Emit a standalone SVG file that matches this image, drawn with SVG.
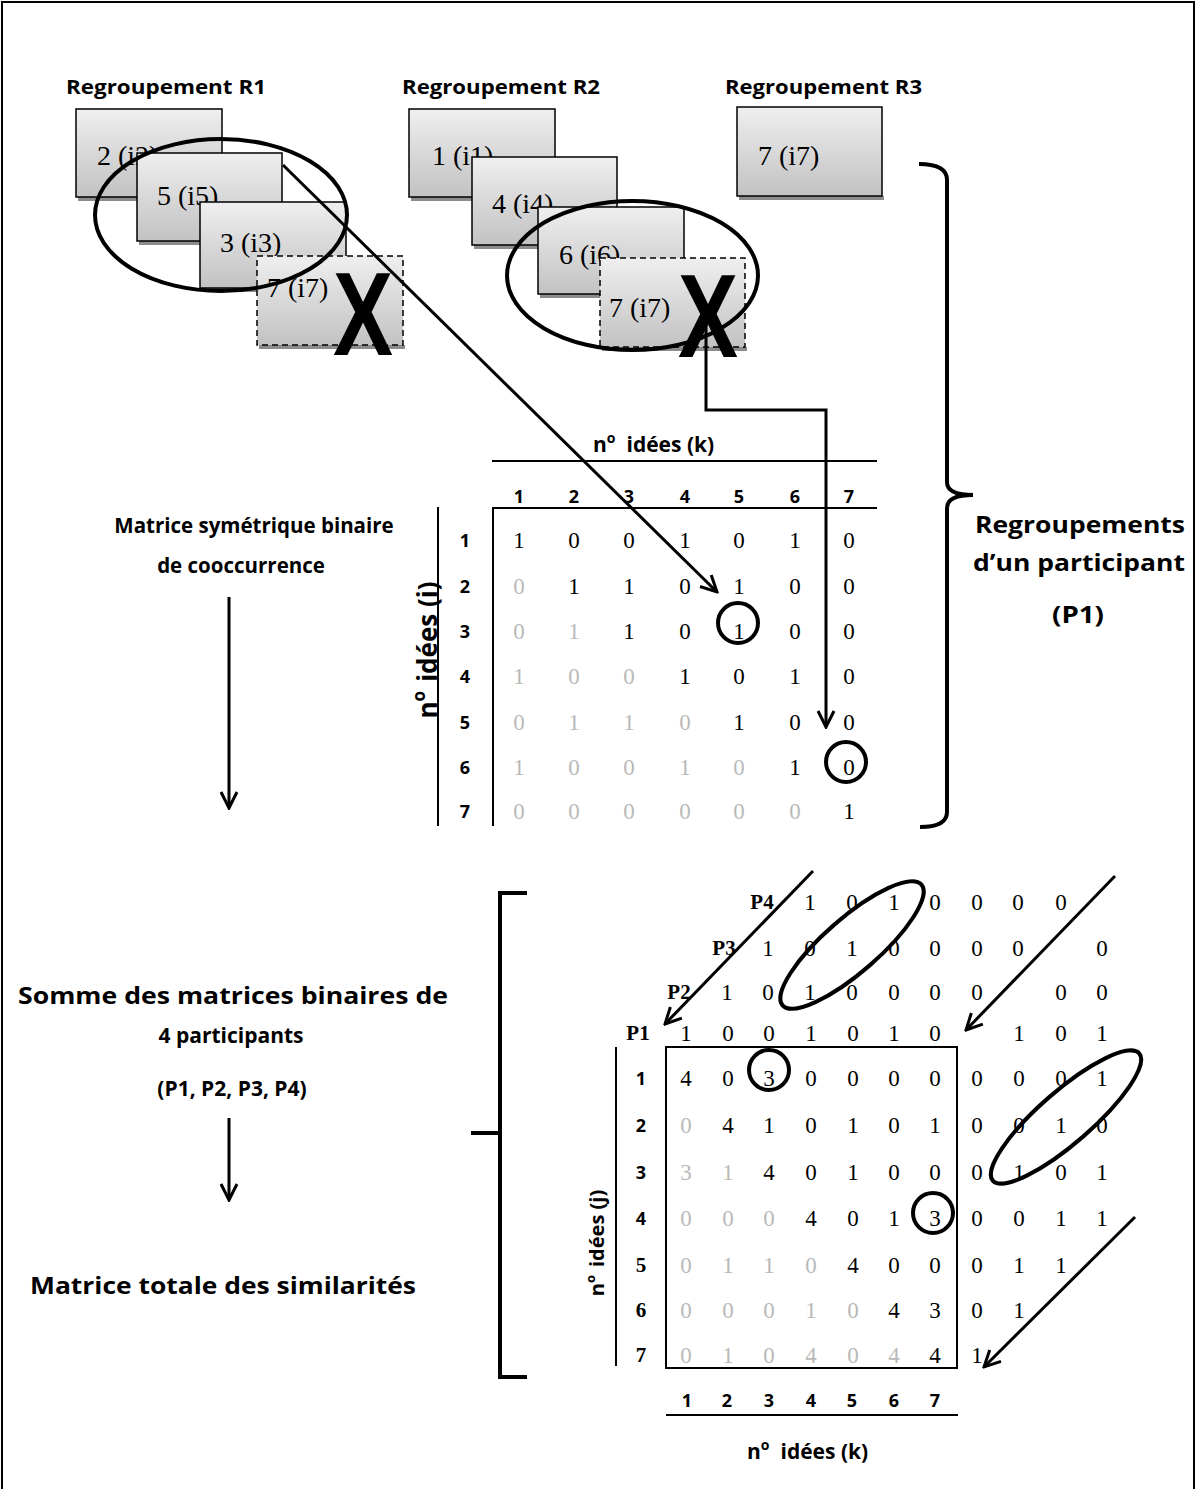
<svg xmlns="http://www.w3.org/2000/svg" width="1196" height="1489" viewBox="0 0 1196 1489">
<defs>
<linearGradient id="grad" x1="0" y1="0" x2="0" y2="1">
<stop offset="0" stop-color="#efefef"/>
<stop offset="1" stop-color="#c2c2c2"/>
</linearGradient>
<marker id="ah" viewBox="0 0 20 20" refX="18" refY="10" markerWidth="20" markerHeight="20" markerUnits="userSpaceOnUse" orient="auto">
<path d="M2,2 L18,10 L2,18" fill="none" stroke="#000" stroke-width="3"/>
</marker>
<style>
.lbl{font-family:"Open Sans","Noto Sans","Liberation Sans",sans-serif;font-weight:700;fill:#000}
.hd{font-family:"Open Sans","Noto Sans","Liberation Sans",sans-serif;font-weight:700;font-size:18px;text-anchor:middle}
.hds{font-family:"Liberation Serif",serif;font-weight:bold;font-size:21px;text-anchor:middle}
.num{font-family:"Liberation Serif",serif;font-size:23px;text-anchor:middle;fill:#000}
.g{fill:#b9b9b9}
.box{fill:url(#grad);stroke:#000;stroke-width:1.5}
.dash{stroke-dasharray:6 4}
.sh{fill:#8c8c8c}
.bt{font-family:"Liberation Serif",serif;font-size:28px;fill:#000}
.bigx{font-family:"Liberation Sans",sans-serif;font-weight:bold;font-size:118px;fill:#000}
.ell{fill:none;stroke:#000;stroke-width:4}
.ln{fill:none;stroke:#000;stroke-width:2}
.br{fill:none;stroke:#000;stroke-width:4}
.arr{fill:none;stroke:#000;stroke-width:3;marker-end:url(#ah)}
</style>
</defs>
<rect width="1196" height="1489" fill="#fff"/>
<rect x="2" y="2" width="1192" height="1520" fill="none" stroke="#000" stroke-width="2"/>

<!-- Group R1 -->
<g id="r1">
<text class="lbl" x="66" y="94" font-size="19" textLength="200" lengthAdjust="spacingAndGlyphs">Regroupement R1</text>
<g id="r1-i2"><rect class="sh" x="78" y="197" width="146" height="4"/><rect class="box" x="76" y="109" width="146" height="88"/><text class="bt" x="97" y="165">2 (i2)</text></g>
<g id="r1-i5"><rect class="sh" x="139" y="241" width="145" height="4"/><rect class="box" x="137" y="153" width="145" height="88"/><text class="bt" x="157" y="205">5 (i5)</text></g>
<g id="r1-i3"><rect class="sh" x="202" y="288" width="146" height="4"/><rect class="box" x="200" y="202" width="146" height="86"/><text class="bt" x="220" y="252">3 (i3)</text></g>
<g id="r1-i7"><rect class="sh" x="259" y="345" width="146" height="4"/><rect class="box dash" x="257" y="256" width="146" height="89"/><text class="bt" x="267" y="297">7 (i7)</text><text class="bigx" x="333" y="355" textLength="60" lengthAdjust="spacingAndGlyphs">X</text></g>
<ellipse class="ell" cx="221" cy="215" rx="126" ry="76"/>
</g>

<!-- Group R2 -->
<g id="r2">
<text class="lbl" x="402" y="94" font-size="19" textLength="198" lengthAdjust="spacingAndGlyphs">Regroupement R2</text>
<g id="r2-i1"><rect class="sh" x="411" y="197" width="146" height="4"/><rect class="box" x="409" y="109" width="146" height="88"/><text class="bt" x="432" y="165">1 (i1)</text></g>
<g id="r2-i4"><rect class="sh" x="474" y="245" width="145" height="4"/><rect class="box" x="472" y="157" width="145" height="88"/><text class="bt" x="492" y="213">4 (i4)</text></g>
<g id="r2-i6"><rect class="sh" x="540" y="294" width="146" height="4"/><rect class="box" x="538" y="207" width="146" height="87"/><text class="bt" x="559" y="264">6 (i6)</text></g>
<g id="r2-i7"><rect class="sh" x="602" y="347" width="145" height="4"/><rect class="box dash" x="600" y="258" width="145" height="89"/><text class="bt" x="609" y="317">7 (i7)</text><text class="bigx" x="678" y="357" textLength="60" lengthAdjust="spacingAndGlyphs">X</text></g>
<ellipse class="ell" cx="632.5" cy="275.5" rx="125.5" ry="74.5"/>
</g>

<!-- Group R3 -->
<g id="r3">
<text class="lbl" x="725" y="94" font-size="19" textLength="197" lengthAdjust="spacingAndGlyphs">Regroupement R3</text>
<g id="r3-i7"><rect class="sh" x="739" y="196" width="145" height="4"/><rect class="box" x="737" y="107" width="145" height="89"/><text class="bt" x="758" y="165">7 (i7)</text></g>
</g>

<!-- Right brace and label -->
<g id="brace-p1">
<path class="br" d="M919,164 Q947,164 947,180 L947,482 Q947,495 973,495 Q947,495 947,508 L947,812 Q947,827 920,827"/>
<text class="lbl" x="1080" y="533" font-size="23" text-anchor="middle" textLength="210" lengthAdjust="spacingAndGlyphs">Regroupements</text>
<text class="lbl" x="1079" y="571" font-size="23" text-anchor="middle" textLength="212" lengthAdjust="spacingAndGlyphs">d’un participant</text>
<text class="lbl" x="1078" y="623" font-size="23" text-anchor="middle" textLength="52" lengthAdjust="spacingAndGlyphs">(P1)</text>
</g>

<!-- Left labels -->
<g id="step1">
<text class="lbl" x="254" y="533" font-size="20.5" text-anchor="middle">Matrice symétrique binaire</text>
<text class="lbl" x="241" y="573" font-size="20.5" text-anchor="middle">de cooccurrence</text>
</g>
<g id="step2">
<text class="lbl" x="233" y="1004" font-size="23" text-anchor="middle" textLength="430" lengthAdjust="spacingAndGlyphs">Somme des matrices binaires de</text>
<text class="lbl" x="231" y="1043" font-size="21" text-anchor="middle">4 participants</text>
<text class="lbl" x="232" y="1096" font-size="21" text-anchor="middle">(P1, P2, P3, P4)</text>
</g>
<g id="step3">
<text class="lbl" x="223" y="1294" font-size="23" text-anchor="middle" textLength="386" lengthAdjust="spacingAndGlyphs">Matrice totale des similarités</text>
</g>

<!-- Top matrix -->
<g id="matrix-p1">
<text class="lbl" x="593" y="452" font-size="21">n<tspan font-size="14" dy="-9">o</tspan><tspan dx="11" dy="9">idées (k)</tspan></text>
<line class="ln" x1="492" y1="461" x2="877" y2="461"/>
<line class="ln" x1="492" y1="508" x2="877" y2="508"/>
<line class="ln" x1="493" y1="507" x2="493" y2="826"/>
<line class="ln" x1="438" y1="507" x2="438" y2="826"/>
<text class="lbl" transform="translate(437,650) rotate(-90)" font-size="26" text-anchor="middle">n<tspan font-size="17" dy="-12">o</tspan><tspan dx="9" dy="12">idées (i)</tspan></text>
<text class="hd" y="503"><tspan x="519">1</tspan><tspan x="574">2</tspan><tspan x="629">3</tspan><tspan x="685">4</tspan><tspan x="739">5</tspan><tspan x="795">6</tspan><tspan x="849">7</tspan></text>
<text class="hd" x="465" y="547">1</text>
<text class="hd" x="465" y="593">2</text>
<text class="hd" x="465" y="638">3</text>
<text class="hd" x="465" y="683">4</text>
<text class="hd" x="465" y="729">5</text>
<text class="hd" x="465" y="774">6</text>
<text class="hd" x="465" y="818">7</text>
<text class="num" y="548"><tspan x="519">1</tspan><tspan x="574">0</tspan><tspan x="629">0</tspan><tspan x="685">1</tspan><tspan x="739">0</tspan><tspan x="795">1</tspan><tspan x="849">0</tspan></text>
<text class="num" y="594"><tspan class="g" x="519">0</tspan><tspan x="574">1</tspan><tspan x="629">1</tspan><tspan x="685">0</tspan><tspan x="739">1</tspan><tspan x="795">0</tspan><tspan x="849">0</tspan></text>
<text class="num" y="639"><tspan class="g" x="519">0</tspan><tspan class="g" x="574">1</tspan><tspan x="629">1</tspan><tspan x="685">0</tspan><tspan x="739">1</tspan><tspan x="795">0</tspan><tspan x="849">0</tspan></text>
<text class="num" y="684"><tspan class="g" x="519">1</tspan><tspan class="g" x="574">0</tspan><tspan class="g" x="629">0</tspan><tspan x="685">1</tspan><tspan x="739">0</tspan><tspan x="795">1</tspan><tspan x="849">0</tspan></text>
<text class="num" y="730"><tspan class="g" x="519">0</tspan><tspan class="g" x="574">1</tspan><tspan class="g" x="629">1</tspan><tspan class="g" x="685">0</tspan><tspan x="739">1</tspan><tspan x="795">0</tspan><tspan x="849">0</tspan></text>
<text class="num" y="775"><tspan class="g" x="519">1</tspan><tspan class="g" x="574">0</tspan><tspan class="g" x="629">0</tspan><tspan class="g" x="685">1</tspan><tspan class="g" x="739">0</tspan><tspan x="795">1</tspan><tspan x="849">0</tspan></text>
<text class="num" y="819"><tspan class="g" x="519">0</tspan><tspan class="g" x="574">0</tspan><tspan class="g" x="629">0</tspan><tspan class="g" x="685">0</tspan><tspan class="g" x="739">0</tspan><tspan class="g" x="795">0</tspan><tspan x="849">1</tspan></text>
<circle class="ell" cx="738" cy="623" r="20"/>
<circle class="ell" cx="846" cy="762" r="20"/>
</g>

<!-- Bottom bracket -->
<g id="brace-sum">
<path class="br" d="M527,893 H500 V1377 H527 M471,1133 H500"/>
</g>

<!-- Bottom matrix -->
<g id="matrix-total">
<rect x="666" y="1047" width="291" height="321" fill="none" stroke="#000" stroke-width="2"/>
<line class="ln" x1="616" y1="1047" x2="616" y2="1366"/>
<text class="lbl" transform="translate(604,1243) rotate(-90)" font-size="20" text-anchor="middle">n<tspan font-size="13" dy="-9">o</tspan><tspan dx="8" dy="9">idées (j)</tspan></text>
<text class="hd" x="641" y="1085">1</text>
<text class="hd" x="641" y="1132">2</text>
<text class="hd" x="641" y="1179">3</text>
<text class="hd" x="641" y="1225">4</text>
<text class="hds" x="641" y="1272">5</text>
<text class="hds" x="641" y="1317">6</text>
<text class="hds" x="641" y="1362">7</text>
<text class="hds" x="762" y="909">P4</text>
<text class="hds" x="724" y="955">P3</text>
<text class="hds" x="679" y="999">P2</text>
<text class="hds" x="638" y="1040">P1</text>
<text class="num" y="910"><tspan x="810">1</tspan><tspan x="852">0</tspan><tspan x="894">1</tspan><tspan x="935">0</tspan><tspan x="977">0</tspan><tspan x="1018">0</tspan><tspan x="1061">0</tspan></text>
<text class="num" y="956"><tspan x="768">1</tspan><tspan x="810">0</tspan><tspan x="852">1</tspan><tspan x="894">0</tspan><tspan x="935">0</tspan><tspan x="977">0</tspan><tspan x="1018">0</tspan><tspan x="1102">0</tspan></text>
<text class="num" y="1000"><tspan x="727">1</tspan><tspan x="768">0</tspan><tspan x="810">1</tspan><tspan x="852">0</tspan><tspan x="894">0</tspan><tspan x="935">0</tspan><tspan x="977">0</tspan><tspan x="1061">0</tspan><tspan x="1102">0</tspan></text>
<text class="num" y="1041"><tspan x="686">1</tspan><tspan x="728">0</tspan><tspan x="769">0</tspan><tspan x="811">1</tspan><tspan x="853">0</tspan><tspan x="894">1</tspan><tspan x="935">0</tspan><tspan x="1019">1</tspan><tspan x="1061">0</tspan><tspan x="1102">1</tspan></text>
<text class="num" y="1086"><tspan x="686">4</tspan><tspan x="728">0</tspan><tspan x="769">3</tspan><tspan x="811">0</tspan><tspan x="853">0</tspan><tspan x="894">0</tspan><tspan x="935">0</tspan><tspan x="977">0</tspan><tspan x="1019">0</tspan><tspan x="1061">0</tspan><tspan x="1102">1</tspan></text>
<text class="num" y="1133"><tspan class="g" x="686">0</tspan><tspan x="728">4</tspan><tspan x="769">1</tspan><tspan x="811">0</tspan><tspan x="853">1</tspan><tspan x="894">0</tspan><tspan x="935">1</tspan><tspan x="977">0</tspan><tspan x="1019">0</tspan><tspan x="1061">1</tspan><tspan x="1102">0</tspan></text>
<text class="num" y="1180"><tspan class="g" x="686">3</tspan><tspan class="g" x="728">1</tspan><tspan x="769">4</tspan><tspan x="811">0</tspan><tspan x="853">1</tspan><tspan x="894">0</tspan><tspan x="935">0</tspan><tspan x="977">0</tspan><tspan x="1019">1</tspan><tspan x="1061">0</tspan><tspan x="1102">1</tspan></text>
<text class="num" y="1226"><tspan class="g" x="686">0</tspan><tspan class="g" x="728">0</tspan><tspan class="g" x="769">0</tspan><tspan x="811">4</tspan><tspan x="853">0</tspan><tspan x="894">1</tspan><tspan x="935">3</tspan><tspan x="977">0</tspan><tspan x="1019">0</tspan><tspan x="1061">1</tspan><tspan x="1102">1</tspan></text>
<text class="num" y="1273"><tspan class="g" x="686">0</tspan><tspan class="g" x="728">1</tspan><tspan class="g" x="769">1</tspan><tspan class="g" x="811">0</tspan><tspan x="853">4</tspan><tspan x="894">0</tspan><tspan x="935">0</tspan><tspan x="977">0</tspan><tspan x="1019">1</tspan><tspan x="1061">1</tspan></text>
<text class="num" y="1318"><tspan class="g" x="686">0</tspan><tspan class="g" x="728">0</tspan><tspan class="g" x="769">0</tspan><tspan class="g" x="811">1</tspan><tspan class="g" x="853">0</tspan><tspan x="894">4</tspan><tspan x="935">3</tspan><tspan x="977">0</tspan><tspan x="1019">1</tspan></text>
<text class="num" y="1363"><tspan class="g" x="686">0</tspan><tspan class="g" x="728">1</tspan><tspan class="g" x="769">0</tspan><tspan class="g" x="811">4</tspan><tspan class="g" x="853">0</tspan><tspan class="g" x="894">4</tspan><tspan x="935">4</tspan><tspan x="977">1</tspan></text>
<line class="ln" x1="666" y1="1415" x2="958" y2="1415"/>
<text class="hd" y="1407"><tspan x="687">1</tspan><tspan x="727">2</tspan><tspan x="769">3</tspan><tspan x="811">4</tspan><tspan x="852">5</tspan><tspan x="894">6</tspan><tspan x="935">7</tspan></text>
<text class="lbl" x="747" y="1459" font-size="21">n<tspan font-size="14" dy="-9">o</tspan><tspan dx="11" dy="9">idées (k)</tspan></text>
<circle class="ell" cx="769" cy="1070" r="20"/>
<circle class="ell" cx="933" cy="1213" r="20"/>
<ellipse class="ell" cx="852" cy="945" rx="92" ry="27" transform="rotate(-41 852 945)"/>
<ellipse class="ell" cx="1066" cy="1117" rx="97" ry="26" transform="rotate(-41 1066 1117)"/>
</g>

<!-- Connectors -->
<g id="connectors">
<line class="arr" x1="283" y1="165" x2="717" y2="592"/>
<path class="arr" d="M706,325 V410 H826 V727"/>
<line class="arr" x1="229" y1="597" x2="229" y2="808"/>
<line class="arr" x1="229" y1="1118" x2="229" y2="1200"/>
<line class="arr" x1="813" y1="871" x2="665" y2="1024"/>
<line class="arr" x1="1115" y1="876" x2="966" y2="1030"/>
<line class="arr" x1="1135" y1="1217" x2="984" y2="1367"/>
</g>
</svg>
